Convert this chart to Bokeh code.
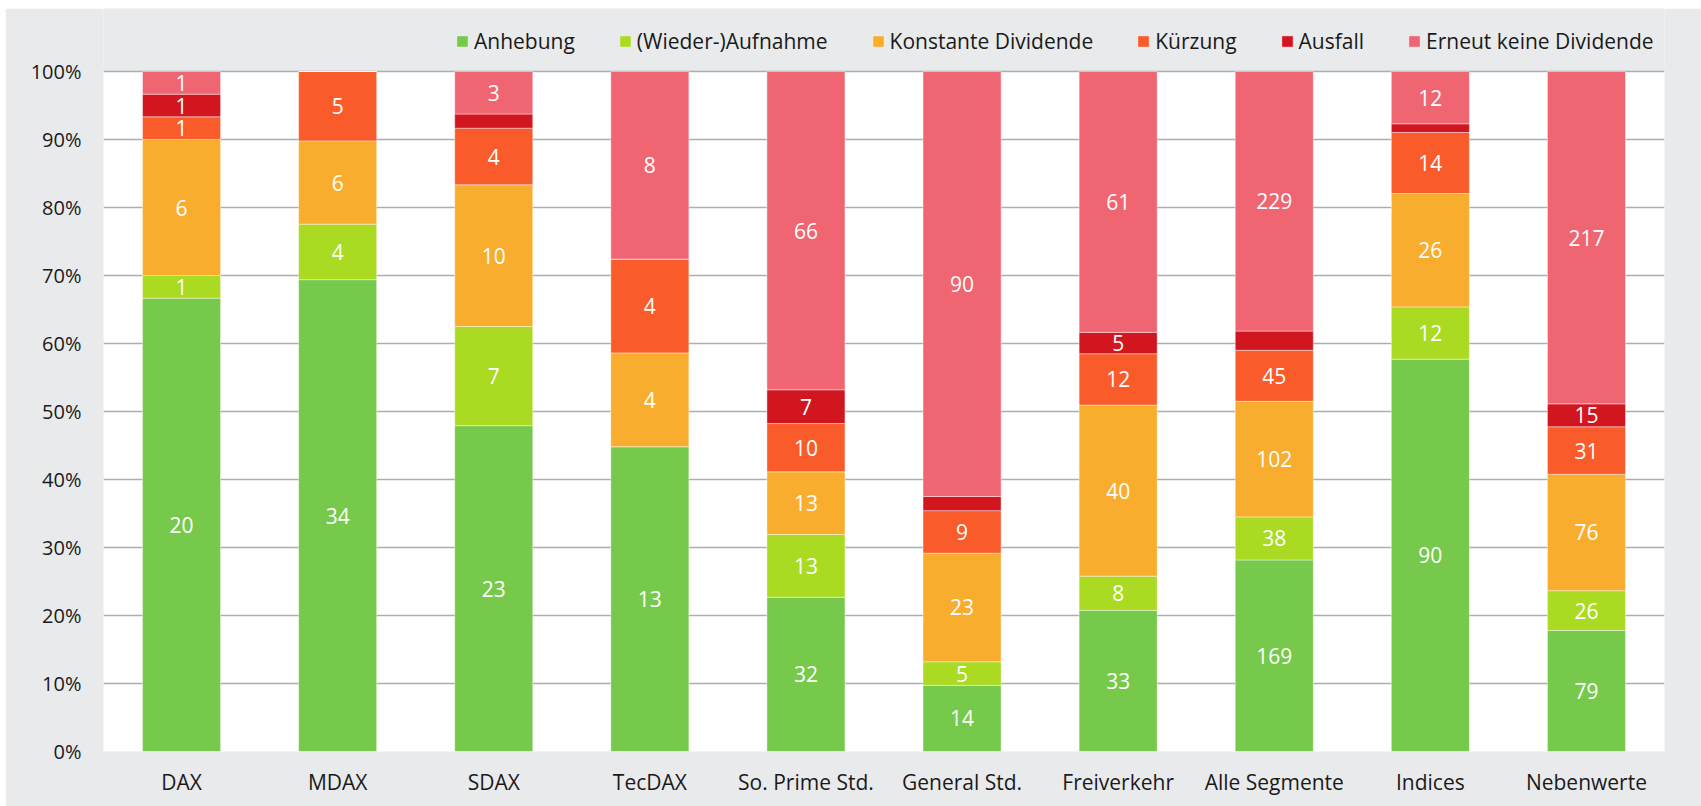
import numpy as np
from bokeh.plotting import figure
from bokeh.models import (ColumnDataSource, Legend, LegendItem, FixedTicker,
                          NumeralTickFormatter, Range1d, BoxAnnotation)
from bokeh.core.properties import value
from bokeh.embed import file_html
from bokeh.resources import INLINE

categories = ["DAX", "MDAX", "SDAX", "TecDAX", "So. Prime Std.", "General Std.",
              "Freiverkehr", "Alle Segmente", "Indices", "Nebenwerte"]
series_names = ["Anhebung", "(Wieder-)Aufnahme", "Konstante Dividende",
                "Kürzung", "Ausfall", "Erneut keine Dividende"]
anhebung = [20, 34, 23, 13, 32, 14, 33, 169, 90, 79]
aufnahme = [1, 4, 7, 0, 13, 5, 8, 38, 12, 26]
konstant = [6, 6, 10, 4, 13, 23, 40, 102, 26, 76]
kuerzung = [1, 5, 4, 4, 10, 9, 12, 45, 14, 31]
ausfall = [1, 0, 1, 0, 7, 3, 5, 17, 2, 15]
keine = [1, 0, 3, 8, 66, 90, 61, 229, 12, 217]
colors = ["#77C94B", "#AADA22", "#F9AD2F", "#F95B2B", "#D11620", "#EF6672"]
y_ticks = [0.0, 0.1, 0.2, 0.3, 0.4, 0.5, 0.6, 0.7, 0.8, 0.9, 1.0]

FONT = "Open Sans"
BG = "#E9EAEC"
counts = np.array([anhebung, aufnahme, konstant, kuerzung, ausfall, keine], dtype=float)
totals = counts.sum(axis=0)
shares = counts / totals
keys = ["s%d" % i for i in range(len(series_names))]

data = {"cat": categories}
for k, row in zip(keys, shares):
    data[k] = list(row)
src = ColumnDataSource(data)

# frame spans from the figure top down to the 0% line; the top 63px hold the legend
frame_h = 743.0
data_h = 680.0
p = figure(x_range=categories, y_range=Range1d(0, frame_h / data_h), width=1696, height=798,
           output_backend="svg", toolbar_location=None, title_location=None,
           min_border_left=98, min_border_right=37, min_border_top=0, min_border_bottom=55)
p.margin = (8, 0, 0, 5)
p.background_fill_color = BG
p.border_fill_color = BG
p.outline_line_color = None

white_area = BoxAnnotation(bottom=0, top=1, fill_color="white", fill_alpha=1,
                           line_color=None, level="underlay")
p.center = [white_area] + list(p.center)

rends = p.vbar_stack(keys, x="cat", width=0.5, color=colors, source=src,
                     line_color="white", line_width=0.6, line_alpha=0.7)

# labels
lx, ly, lt = [], [], []
cum = np.cumsum(shares, axis=0)
for i in range(len(series_names)):
    for j, c in enumerate(categories):
        if shares[i, j] >= 0.03:
            lx.append(c)
            ly.append(cum[i, j] - shares[i, j] / 2)
            lt.append(str(int(counts[i, j])))
lsrc = ColumnDataSource(dict(x=lx, y=ly, t=lt))
p.text(x="x", y="y", text="t", source=lsrc, text_color="white",
       text_font=value(FONT), text_font_size="21px", text_align="center",
       text_baseline="middle")

p.xgrid.grid_line_color = None
p.ygrid.grid_line_color = "#A9AEB4"
p.ygrid.grid_line_width = 1.5
p.ygrid.ticker = FixedTicker(ticks=y_ticks)

p.yaxis.ticker = FixedTicker(ticks=y_ticks)
p.yaxis.formatter = NumeralTickFormatter(format="0%")
for ax in (p.xaxis, p.yaxis):
    ax.axis_line_color = None
    ax.major_tick_line_color = None
    ax.minor_tick_line_color = None
    ax.major_label_text_font = FONT
    ax.major_label_text_color = "#1a1a1a"
p.yaxis.major_label_text_font_size = "20px"
p.xaxis.major_label_text_font_size = "21px"
p.yaxis.major_label_standoff = 16
p.xaxis.major_label_standoff = 10

items = [LegendItem(label=n, renderers=[r]) for n, r in zip(series_names, rends)]
legend = Legend(items=items, orientation="horizontal", location=(352, 696),
                glyph_width=14, glyph_height=14, label_standoff=5, spacing=43,
                padding=0, margin=0, background_fill_alpha=0, border_line_color=None,
                label_text_font=FONT, label_text_font_size="21px", label_text_color="#1a1a1a")
p.add_layout(legend, "center")

open("out.html", "w").write(file_html(p, INLINE))
